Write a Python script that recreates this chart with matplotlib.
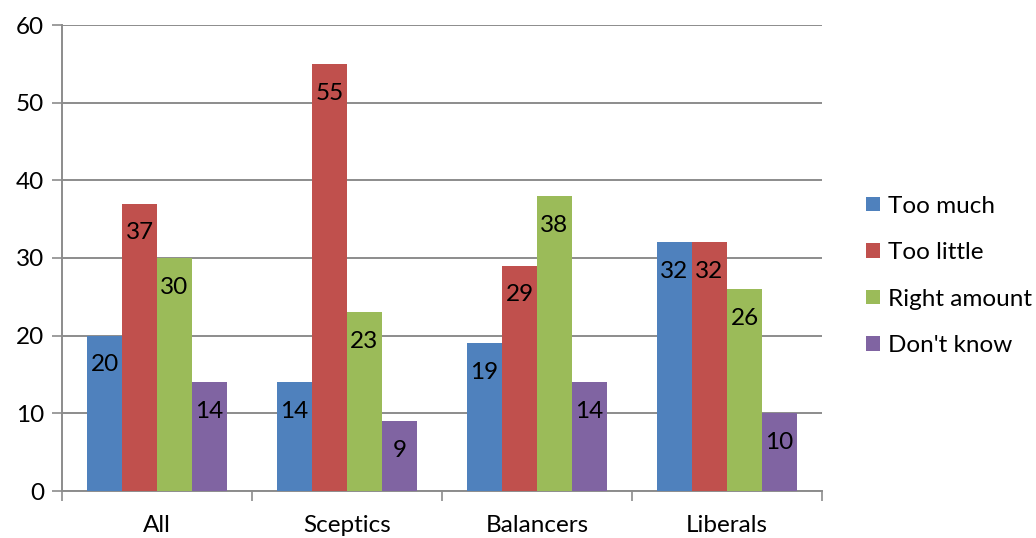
import numpy as np
import matplotlib.pyplot as plt

plt.rcParams['font.family'] = ['Lato', 'DejaVu Sans']

categories = ["All", "Sceptics", "Balancers", "Liberals"]
series = ["Too much", "Too little", "Right amount", "Don't know"]
too_much = [20, 14, 19, 32]
too_little = [37, 55, 29, 32]
right_amount = [30, 23, 38, 26]
dont_know = [14, 9, 14, 10]
colors = ["#4F81BD", "#C0504D", "#9BBB59", "#8064A2"]

values = [too_much, too_little, right_amount, dont_know]

fig = plt.figure(figsize=(10.36, 5.38), dpi=100)
ax = fig.add_axes([62/1036, 1-491/538, 760/1036, 466/538])

grid_col = "#8C8C8C"
fs = 17.5
width = 0.184
centers = np.arange(len(categories)) + 0.5
for i, (name, vals, col) in enumerate(zip(series, values, colors)):
    x = centers + (i - 1.5) * width
    bars = ax.bar(x, vals, width, color=col, label=name, zorder=3)
    for b, v in zip(bars, vals):
        ax.annotate(str(v), (b.get_x() + b.get_width() / 2, v),
                    xytext=(0, -21), textcoords="offset points",
                    ha="center", va="center", fontsize=fs, color="black",
                    zorder=4)

ax.set_xlim(0, 4)
ax.set_ylim(0, 60)
ax.set_yticks(range(0, 61, 10))
ax.yaxis.grid(True, color=grid_col, linewidth=1.4, zorder=0)
ax.set_xticks(range(0, 5))
ax.set_xticklabels([])
ax.set_xticks(centers, minor=True)
ax.set_xticklabels(categories, minor=True)
ax.tick_params(axis="x", which="minor", length=0, pad=17, labelsize=fs)
ax.tick_params(axis="x", which="major", length=7, width=1.2, color=grid_col)
ax.tick_params(axis="y", length=7, width=1.2, color=grid_col, labelsize=fs, pad=6)

for s in ["top", "right"]:
    ax.spines[s].set_visible(False)
for s in ["left", "bottom"]:
    ax.spines[s].set_color(grid_col)
    ax.spines[s].set_linewidth(1.4)

fig.legend(loc="center left", bbox_to_anchor=(0.815, 0.487), frameon=False,
           fontsize=fs, handlelength=0.55, handleheight=0.55, handletextpad=0.35,
           labelspacing=1.05)

fig.savefig("out.png", dpi=100)
